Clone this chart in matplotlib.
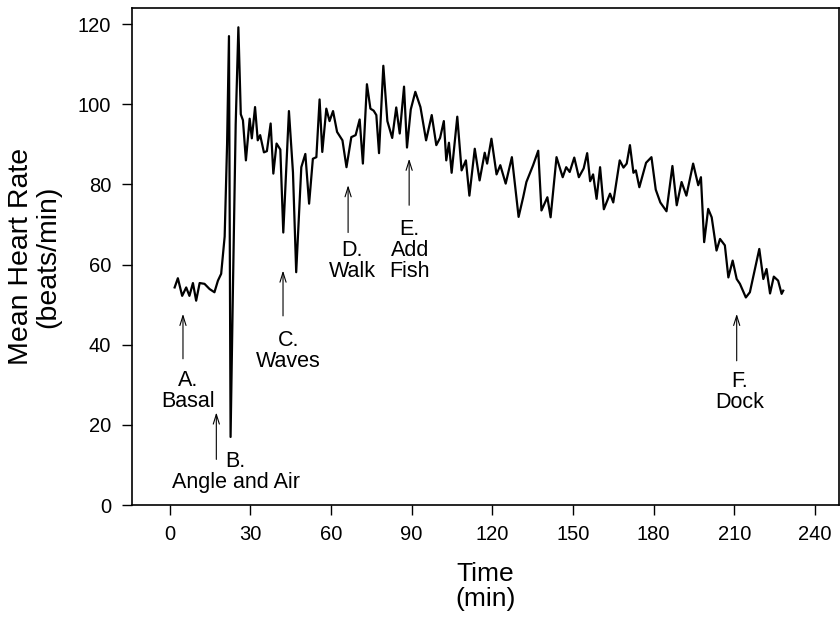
import numpy as np
import matplotlib
matplotlib.use('Agg')
import matplotlib.pyplot as plt

plt.rcParams['font.family'] = ['Liberation Sans', 'DejaVu Sans']

# time (min) and mean heart rate (beats/min)
time_min = [1.9, 3.1, 4.7, 6.2, 7.4, 8.7, 9.9, 11.2, 13.0, 14.9, 16.7, 18.0, 19.2,
            20.5, 21.4, 22.1, 22.4, 22.7, 23.6, 24.6, 25.6,
            26.5, 27.3, 28.4, 29.8, 30.6, 31.8, 32.8, 33.7, 35.1, 36.2, 37.6, 38.6,
            39.8, 41.2, 42.3, 44.4, 45.9, 47.1, 49.0, 50.5, 51.9, 53.3, 54.6, 55.8,
            56.8, 58.3, 59.5, 60.8, 62.3, 64.3, 65.8, 67.6, 69.2, 70.7, 71.9, 73.4,
            74.7, 75.9, 76.9, 77.9, 79.5, 81.0, 82.8, 84.3, 85.6, 87.2, 88.3, 89.7,
            91.4, 93.3, 95.4, 97.5, 99.2, 100.6, 102.0, 102.9, 103.9, 104.9, 107.0,
            108.6, 110.2, 111.5, 113.5, 115.3, 117.2, 118.1, 119.7, 121.6, 123.0,
            125.0, 127.3, 129.8, 131.5, 132.7, 135.2, 137.1, 138.3, 140.5, 141.7,
            143.9, 146.2, 147.5, 148.8, 150.5, 152.2, 154.0, 155.3, 156.4, 157.5,
            158.8, 160.1, 161.5, 163.8, 165.0, 167.4, 168.8, 170.0, 171.2, 172.5,
            173.4, 174.7, 177.2, 179.2, 180.8, 182.5, 184.8, 187.0, 188.6, 190.4,
            192.2, 194.7, 196.6, 197.6, 198.8, 200.3, 201.6, 203.4, 204.7, 206.5,
            207.8, 209.4, 210.9, 212.1, 214.3, 215.8, 219.3, 220.8, 222.0, 223.3,
            224.7, 226.3, 227.6, 228.2]
heart_rate = [54.3, 56.6, 52.2, 54.3, 52.2, 55.4, 51.0, 55.4, 55.2, 53.9, 53.1, 56.0, 57.7,
              67.0, 90.0, 117.0, 70.0, 17.0, 55.0, 95.0, 119.2,
              97.5, 96.0, 86.0, 96.4, 91.5, 99.3, 91.0, 92.3, 88.0, 88.3, 95.2, 82.7,
              90.2, 88.7, 68.0, 98.3, 83.0, 58.1, 84.3, 87.6, 75.2, 86.4, 86.8, 101.2,
              88.1, 98.9, 95.8, 98.3, 93.1, 91.0, 84.3, 91.8, 92.3, 96.2, 85.2, 105.0,
              98.9, 98.4, 97.3, 87.8, 109.6, 95.8, 91.6, 99.2, 92.7, 104.4, 89.2, 98.7,
              103.1, 99.3, 91.0, 97.3, 89.8, 91.6, 95.8, 86.0, 90.4, 82.9, 96.9,
              83.5, 86.0, 77.2, 88.9, 81.0, 87.9, 85.2, 91.4, 82.5, 84.8,
              80.2, 86.8, 71.9, 76.8, 80.6, 84.8, 88.4, 73.5, 76.8, 71.8,
              86.8, 81.8, 84.3, 83.1, 86.7, 81.8, 84.0, 87.8, 80.8, 82.5,
              76.4, 84.3, 73.8, 77.7, 75.5, 86.0, 84.2, 85.2, 89.8, 82.9,
              83.5, 79.3, 85.4, 86.8, 78.7, 75.5, 73.3, 84.6, 74.8, 80.6,
              77.2, 85.2, 79.8, 81.8, 65.6, 73.9, 71.8, 63.5, 66.4, 64.8,
              56.8, 61.0, 56.4, 55.2, 51.8, 53.1, 63.9, 56.4, 58.9, 52.8,
              57.0, 56.0, 52.7, 53.5]

# event labels: text, arrow x, arrow tail y, arrow head y, text x, text y
event_labels = ['A.\nBasal', 'B.\nAngle and Air', 'C.\nWaves', 'D.\nWalk',
                'E.\nAdd\nFish', 'F.\nDock']
arrow_x = [5.0, 17.4, 42.2, 66.4, 89.1, 210.9]
arrow_tail = [36.5, 11.4, 47.2, 68.0, 74.8, 36.0]
arrow_head = [47.7, 23.1, 58.5, 79.8, 86.4, 47.7]
label_x = [6.8, 24.6, 44.3, 67.9, 89.3, 212.1]
label_y = [28.5, 8.2, 38.5, 60.8, 63.5, 28.3]

xticks = [0, 30, 60, 90, 120, 150, 180, 210, 240]
yticks = [0, 20, 40, 60, 80, 100, 120]

fig = plt.figure(figsize=(8.4, 6.19), dpi=100)
ax = fig.add_axes([0.157, 0.184, 0.842, 0.803])

ax.plot(time_min, heart_rate, color='black', lw=1.6)

for txt, ax_x, y0, y1, tx, ty in zip(event_labels, arrow_x, arrow_tail, arrow_head,
                                      label_x, label_y):
    ax.annotate('', xy=(ax_x, y1), xytext=(ax_x, y0),
                arrowprops=dict(arrowstyle='->,head_length=0.7,head_width=0.22',
                                lw=0.8, color='black', shrinkA=0, shrinkB=0))
    ax.text(tx, ty, txt, ha='center', va='center', fontsize=15.5,
            linespacing=1.0, multialignment='center')

ax.set_xlim(-14, 249)
ax.set_ylim(0, 124)
ax.set_xticks(xticks)
ax.set_yticks(yticks)
ax.tick_params(direction='out', length=7, width=1, labelsize=14.5)
ax.tick_params(axis='x', pad=7)
ax.tick_params(axis='y', pad=8)

ax.set_xlabel('Time\n(min)', fontsize=19, linespacing=1.05, labelpad=13)
ax.set_ylabel('Mean Heart Rate\n(beats/min)', fontsize=20.5, linespacing=1.05, labelpad=12)

for s in ax.spines.values():
    s.set_linewidth(1.2)

fig.savefig('out.png', dpi=100)
